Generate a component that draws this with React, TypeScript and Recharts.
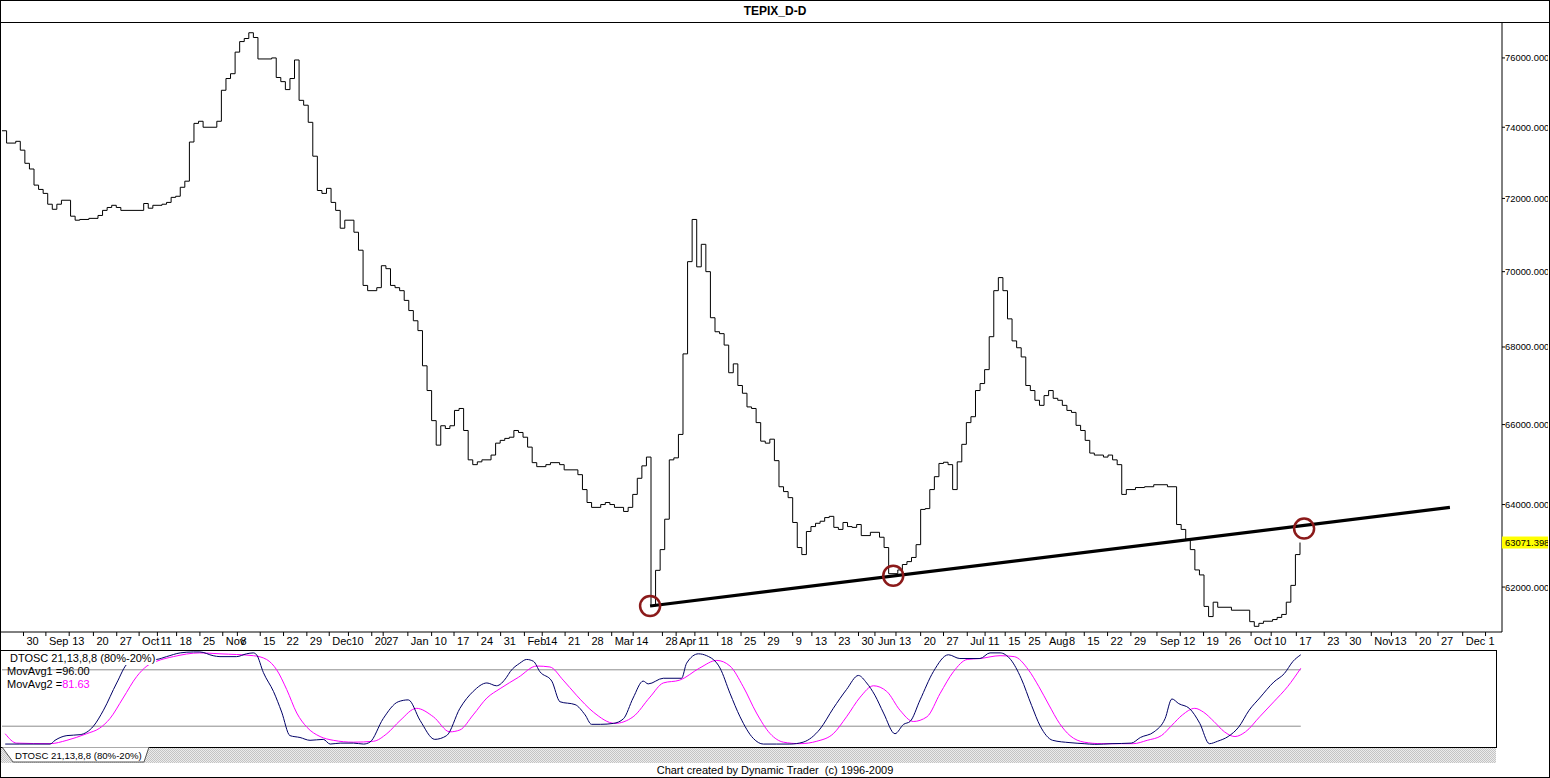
import React from 'react';
import { LineChart, Line, XAxis, YAxis, ReferenceLine, ReferenceDot } from 'recharts';

const FONT = '"Liberation Sans", Arial, sans-serif';

// trading-day index of each step change, and the price it steps to
const priceDays = [
  0, 1, 3, 4, 5, 6, 7, 8, 9, 10, 11, 12, 13, 15, 16, 17, 19, 21, 22, 23, 24, 25, 26, 31, 32, 33, 35, 36, 37, 38,
  39, 40, 41, 42, 43, 44, 47, 48, 49, 50, 51, 52, 53, 54, 55, 56, 59, 60, 61, 62, 63, 64, 65, 66, 67, 68, 69, 70,
  71, 72, 73, 74, 75, 77, 78, 79, 80, 82, 83, 84, 85, 86, 87, 88, 89, 90, 91, 92, 93, 94, 95, 96, 97, 98, 99, 100,
  101, 102, 103, 104, 105, 107, 108, 109, 110, 111, 112, 113, 114, 115, 116, 117, 119, 120, 122, 123, 126, 127,
  128, 129, 131, 132, 133, 134, 136, 137, 138, 139, 140, 141, 142, 143, 144, 145, 146, 147, 148, 149, 150, 151,
  152, 153, 154, 155, 156, 157, 158, 159, 160, 161, 162, 163, 164, 165, 166, 167, 168, 169, 170, 171, 172, 173,
  174, 175, 176, 177, 178, 179, 180, 181, 182, 183, 184, 185, 186, 187, 188, 190, 192, 193, 194, 196, 197, 198,
  199, 200, 201, 202, 203, 204, 205, 206, 207, 208, 209, 210, 211, 212, 213, 214, 215, 216, 217, 218, 219, 220,
  221, 222, 223, 224, 225, 226, 227, 228, 229, 230, 231, 232, 233, 234, 235, 236, 237, 238, 239, 241, 242, 243,
  244, 245, 246, 248, 250, 252, 255, 257, 258, 259, 260, 261, 262, 263, 264, 265, 266, 269, 273, 274, 275, 276,
  278, 279, 280, 281, 282, 283, 284,
];
const priceValues = [
  73900, 73550, 73600, 73350, 72980, 72820, 72370, 72250, 72140, 71840, 71700, 71840, 71950, 71510, 71400, 71420,
  71450, 71530, 71670, 71750, 71810, 71750, 71670, 71860, 71730, 71810, 71840, 71890, 72030, 72060, 72310, 72480,
  73580, 74110, 74170, 74000, 74170, 75060, 75400, 75540, 76170, 76480, 76570, 76740, 76600, 75970, 76000, 75430,
  75310, 75080, 75400, 75940, 74770, 74630, 74140, 73180, 72220, 72140, 72280, 71890, 71670, 71180, 71400, 71070,
  70580, 69630, 69490, 69570, 70160, 70080, 69630, 69570, 69490, 69230, 68960, 68690, 68430, 67510, 66870, 66100,
  65480, 65970, 65900, 65970, 66360, 66410, 65850, 65110, 64990, 65060, 65110, 65230, 65530, 65600, 65650, 65680,
  65850, 65800, 65680, 65430, 65040, 64940, 64990, 65040, 64990, 64860, 64740, 64370, 64050, 63930, 64000, 64050,
  64000, 63930, 63830, 63930, 64250, 64650, 64960, 65180, 61550, 62400, 62900, 63640, 65110, 65160, 65750, 67820,
  70270, 71420, 70130, 70740, 70000, 68770, 68400, 68350, 68050, 67330, 67560, 67000, 66800, 66450, 66410, 66050,
  65580, 65530, 65630, 65090, 64440, 64320, 64170, 63560, 62950, 62780, 63340, 63460, 63540, 63590, 63680, 63710,
  63440, 63390, 63560, 63460, 63440, 63510, 63240, 63320, 63200, 62950, 62320, 62410, 62540, 62610, 62710, 63020,
  63880, 63900, 64370, 64690, 65020, 65050, 64990, 64370, 65060, 65500, 66050, 66200, 66870, 67050, 67410, 68270,
  69490, 69840, 69490, 68740, 68160, 67980, 67740, 67000, 66870, 66620, 66490, 66740, 66870, 66670, 66620, 66490,
  66360, 66310, 65980, 65850, 65600, 65280, 65230, 65180, 65230, 65110, 64990, 64250, 64370, 64420, 64440, 64490,
  64440, 63510, 63390, 63150, 62900, 62410, 62290, 61540, 61300, 61640, 61520, 61450, 61180, 61070, 61140, 61190,
  61230, 61280, 61350, 61640, 62040, 62780, 63071.398,
];

const priceTicks = [62000, 64000, 66000, 68000, 70000, 72000, 74000, 76000];
const lastClose = 63071.398;

const tickDays = [
  4.7, 9.6, 14.7, 20.0, 25.1, 30.0, 34.0, 38.2, 43.3, 48.3, 51.5, 56.5, 61.6, 66.7, 71.6, 75.8, 80.9, 83.4, 88.8,
  94.0, 98.9, 104.1, 109.1, 114.3, 118.2, 123.2, 128.3, 133.4, 138.1, 144.5, 147.5, 151.6, 156.6, 161.7, 166.8,
  173.0, 177.2, 182.3, 187.4, 191.0, 195.6, 201.0, 206.0, 211.2, 215.1, 219.5, 223.9, 228.4, 232.8, 236.8, 241.9,
  247.0, 252.7, 257.8, 262.9, 267.8, 273.3, 277.7, 283.2, 289.3, 294.1, 299.6, 304.0, 309.4, 314.2, 319.6, 324.6,
];
const tickLabels = [
  '30', 'Sep', '13', '20', '27', 'Oct', '11', '18', '25', 'Nov', '8', '15', '22', '29', 'Dec', '10', '20', '27', 'Jan',
  '10', '17', '24', '31', 'Feb', '14', '21', '28', 'Mar', '14', '28', 'Apr', '11', '18', '25', '29',
  '9', '13', '23', '30', 'Jun', '13', '20', '27', 'Jul', '11', '15', '25', 'Aug', '8', '15', '22',
  '29', 'Sep', '12', '19', '26', 'Oct', '10', '17', '23', '30', 'Nov', '13', '20', '27', 'Dec', '1',
];

// drawn trend line and the three circled touches
const trendDays = [141.8, 316.8];
const trendValues = [61550, 63930];
const circleDays = [141.8, 195.0, 284.9];
const circleValues = [61550, 62270, 63410];

// DTOSC fast line and its moving average
const fastDays = [
  0.7, 3.9, 10.5, 11.6, 14.2, 17.1, 20.0, 22.2, 25.1, 27.6, 30.0, 33.8, 36.0, 39.0, 41.9, 43.3, 46.2, 47.7, 51.3,
  53.5, 55.0, 55.7, 57.2, 59.4, 61.2, 63.0, 65.2, 67.4, 70.3, 71.8, 74.0, 76.9, 79.1, 80.5, 83.4, 86.7, 88.9, 91.5,
  94.7, 97.3, 100.2, 103.1, 106.1, 108.2, 110.4, 111.2, 113.3, 114.8, 116.3, 117.7, 120.3, 122.1, 125.4, 127.6,
  129.0, 131.0, 133.8, 136.0, 138.1, 140.3, 141.4, 144.7, 148.7, 149.8, 152.4, 154.2, 157.1, 159.3, 161.5, 164.4,
  166.6, 169.5, 172.4, 175.3, 179.0, 181.9, 184.8, 187.4, 189.2, 191.0, 192.9, 195.4, 197.3, 198.7, 200.9, 203.8,
  207.1, 209.6, 214.0, 216.2, 218.4, 220.7, 223.0, 225.3, 227.2, 229.9, 233.7, 236.8, 239.1, 242.9, 247.1, 249.1,
  252.1, 254.5, 256.0, 257.5, 259.8, 262.1, 264.2, 266.0, 268.3, 270.6, 272.9, 275.2, 278.3, 280.6, 282.5, 284.2,
];
const fastValues = [
  1, 1, 1, 5, 10, 11, 20, 37, 66, 87, 90, 91, 94, 98, 99, 99, 95, 94, 94,
  97, 98, 96, 77, 57, 35, 10, 8, 5, 6, 1, 2, 2, 1, 3, 28, 46, 48, 26,
  6, 10, 39, 57, 66, 63, 72, 78, 87, 91, 89, 78, 68, 46, 43, 32,
  22, 22, 23, 28, 50, 68, 65, 71, 71, 87, 97, 95, 82, 55, 30, 7,
  1, 1, 1, 3, 17, 39, 59, 74, 66, 53, 34, 12, 22, 25, 48, 78,
  96, 92, 92, 98, 98, 91, 71, 42, 20, 5, 2.5, 1.4, 0.7, 1.4, 2, 8,
  14, 28, 49, 44, 39, 23, 1.4, 4, 9, 19, 37, 50, 67, 76, 89, 96,
];
const slowDays = [
  0.7, 3.2, 10.5, 14.2, 18.5, 21.4, 23.6, 26.5, 29.5, 31.7, 33.8, 37.5, 43.3, 47.7, 55.0, 57.9, 60.1, 62.3, 64.5,
  66.7, 69.6, 72.5, 76.9, 81.3, 84.2, 87.1, 90.7, 94.4, 98.0, 100.2, 103.1, 106.1, 109.0, 113.0, 117.0, 119.9,
  122.8, 125.7, 129.4, 134.1, 138.1, 141.8, 144.7, 148.3, 152.7, 156.4, 159.3, 162.2, 165.1, 168.1, 171.0, 174.6,
  178.3, 181.9, 184.8, 187.8, 190.7, 193.6, 196.5, 199.4, 202.4, 205.3, 208.2, 211.2, 214.0, 218.4, 221.5, 224.6,
  226.9, 229.1, 231.4, 233.7, 236.8, 240.6, 247.5, 250.6, 253.7, 256.0, 258.3, 261.0, 262.9, 265.2, 267.5, 269.8,
  272.1, 275.2, 278.3, 281.3, 284.2,
];
const slowValues = [
  12, 2, 1.4, 5, 12, 18, 28, 50, 73, 84, 89, 94, 98, 97, 95, 91, 80, 59, 34,
  19, 9, 5, 3, 4, 12, 26, 39, 30, 14, 16, 32, 50, 60, 72, 84, 83,
  69, 53, 35, 23, 30, 51, 66, 69, 82, 90, 84, 62, 34, 12, 3, 1.4,
  4, 12, 30, 51, 63, 57, 37, 25, 30, 55, 78, 91, 92, 95, 94, 80,
  62, 42.5, 23, 10, 3, 1.4, 1.4, 5, 10, 21, 32, 39, 35, 25, 14, 9,
  14, 30, 46, 62, 81.63,
];

const priceData = priceDays.map((d, i) => ({ d, p: priceValues[i] }));
const fastData = fastDays.map((d, i) => ({ d, v: fastValues[i] }));
const slowData = slowDays.map((d, i) => ({ d, v: slowValues[i] }));

const XTick = (props: any) => {
  const { x, y, payload } = props;
  const i = tickDays.indexOf(payload.value);
  return (
    <text x={x + 3} y={y + 7} fontSize={11} fontFamily={FONT} fill="#000" textAnchor="start">
      {tickLabels[i]}
    </text>
  );
};

const YTick = (props: any) => {
  const { x, y, payload } = props;
  const isLast = payload.value === lastClose;
  return (
    <g>
      {isLast && <rect x={x - 3} y={y - 6} width={50} height={12} fill="#ffff00" />}
      <text x={x} y={y + 3.5} fontSize={9.4} fontFamily={FONT} fill="#000" textAnchor="start">
        {payload.value.toFixed(3)}
      </text>
    </g>
  );
};

const App: React.FC = () => {
  return (
    <div
      style={{
        position: 'relative',
        width: 1550,
        height: 778,
        boxSizing: 'border-box',
        border: '1px solid #000',
        background: '#fff',
        fontFamily: FONT,
        overflow: 'hidden',
      }}
    >
      <style>{'body{margin:0}'}</style>
      <div
        style={{
          position: 'absolute',
          left: 0,
          top: 0,
          width: 1548,
          height: 21,
          borderBottom: '1px solid #000',
          textAlign: 'center',
          fontWeight: 'bold',
          fontSize: 12,
          lineHeight: '21px',
        }}
      >
        TEPIX_D-D
      </div>

      <LineChart
        width={1548}
        height={628}
        data={priceData}
        margin={{ top: 0, right: 0, bottom: 0, left: 0 }}
        style={{ position: 'absolute', left: -1, top: 21 }}
      >
        <XAxis
          dataKey="d"
          type="number"
          domain={[-0.44, 328.2]}
          ticks={tickDays}
          interval={0}
          tick={<XTick />}
          tickSize={4}
          tickMargin={2}
          height={18}
          axisLine={{ stroke: '#000' }}
          tickLine={{ stroke: '#000' }}
          allowDataOverflow
        />
        <YAxis
          orientation="right"
          scale="log"
          domain={[60937, 77058]}
          ticks={[...priceTicks, lastClose]}
          interval={0}
          width={46}
          tick={<YTick />}
          tickSize={3}
          tickMargin={0}
          axisLine={{ stroke: '#000' }}
          tickLine={{ stroke: '#000' }}
          allowDataOverflow
        />
        <Line
          type="stepAfter"
          dataKey="p"
          stroke="#000"
          strokeWidth={1}
          dot={false}
          isAnimationActive={false}
        />
        <ReferenceLine
          segment={[
            { x: trendDays[0], y: trendValues[0] },
            { x: trendDays[1], y: trendValues[1] },
          ]}
          stroke="#000"
          strokeWidth={3.2}
        />
        {circleDays.map((d, i) => (
          <ReferenceDot
            key={i}
            x={d}
            y={circleValues[i]}
            r={10}
            fill="none"
            stroke="#8b1a1a"
            strokeWidth={2.5}
          />
        ))}
      </LineChart>

      <div
        style={{
          position: 'absolute',
          left: -1,
          top: 649,
          width: 1497,
          height: 98,
          boxSizing: 'border-box',
          border: '1px solid #000',
        }}
      />
      <LineChart
        width={1495}
        height={97}
        margin={{ top: 1, right: 0, bottom: 2, left: 0 }}
        style={{ position: 'absolute', left: -1, top: 649 }}
      >
        <XAxis dataKey="d" type="number" domain={[-0.44, 326.7]} hide allowDataOverflow />
        <YAxis domain={[0, 100]} hide width={0} />
        <ReferenceLine segment={[{ x: 0, y: 80 }, { x: 284.2, y: 80 }]} stroke="#8c8c8c" />
        <ReferenceLine segment={[{ x: 0, y: 20 }, { x: 284.2, y: 20 }]} stroke="#8c8c8c" />
        <Line
          data={slowData}
          dataKey="v"
          type="monotone"
          stroke="#ff00ff"
          strokeWidth={1}
          dot={false}
          isAnimationActive={false}
        />
        <Line
          data={fastData}
          dataKey="v"
          type="monotone"
          stroke="#000066"
          strokeWidth={1}
          dot={false}
          isAnimationActive={false}
        />
      </LineChart>
      <div
        style={{
          position: 'absolute',
          left: 8,
          top: 651,
          fontSize: 11,
          lineHeight: '13px',
          background: '#fff',
          padding: '0 1px',
          whiteSpace: 'pre',
        }}
      >
        DTOSC 21,13,8,8 (80%-20%)
      </div>
      <div style={{ position: 'absolute', left: 6, top: 664, fontSize: 11, lineHeight: '13px', whiteSpace: 'pre' }}>
        MovAvg1 =96.00
      </div>
      <div style={{ position: 'absolute', left: 6, top: 677, fontSize: 11, lineHeight: '13px', whiteSpace: 'pre' }}>
        MovAvg2 =<span style={{ color: '#ff00ff' }}>81.63</span>
      </div>

      <div
        style={{
          position: 'absolute',
          left: 0,
          top: 747,
          width: 1495,
          height: 15,
          backgroundColor: '#e4e4e4',
          backgroundImage: 'repeating-conic-gradient(#c4c4c4 0 25%, #ececec 0 50%)',
          backgroundSize: '2px 2px',
        }}
      />
      <svg width={160} height={16} style={{ position: 'absolute', left: 0, top: 746 }}>
        <polygon points="1,0 12,15 143,15 148,0" fill="#fff" stroke="#555" strokeWidth={1} />
        <text x={14} y={11.5} fontSize={9.6} fontFamily={FONT} fill="#000">
          DTOSC 21,13,8,8 (80%-20%)
        </text>
      </svg>
      <div
        style={{
          position: 'absolute',
          left: 0,
          top: 762,
          width: 1548,
          height: 14,
          textAlign: 'center',
          fontSize: 11,
          lineHeight: '14px',
          whiteSpace: 'pre',
        }}
      >
        Chart created by Dynamic Trader  (c) 1996-2009
      </div>
    </div>
  );
};

export default App;
